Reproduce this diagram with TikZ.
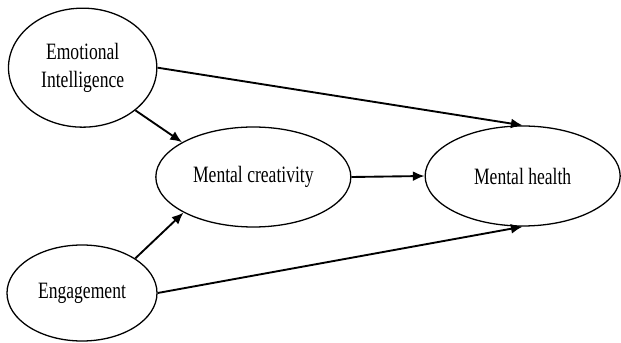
\documentclass[tikz,border=0pt]{standalone}
\usepackage{fontspec}
\setmainfont{Liberation Serif}[FakeStretch=0.75]
\usepackage{tikz}
\usetikzlibrary{arrows.meta,shapes,positioning,calc}

\begin{document}
\begin{tikzpicture}[
    var/.style={draw, ellipse, line width=1.1pt, inner sep=0pt, align=center,
        font=\fontsize{20pt}{24pt}\selectfont},
    path/.style={-{Latex[length=10pt,width=8.5pt]}, line width=1.6pt}
]
    \useasboundingbox (0,0) rectangle (18.63,-10.29);

    % Latent variables
    \node[var, minimum width=4.45cm, minimum height=3.57cm] (emotion) at (2.48,-2.03) {Emotional\\Intelligence};
    \node[var, minimum width=4.5cm, minimum height=2.88cm] (engage) at (2.46,-8.79) {Engagement};
    \node[var, minimum width=5.85cm, minimum height=3.0cm] (creative) at (7.6,-5.31) {Mental creativity};
    \node[var, minimum width=5.85cm, minimum height=3.0cm] (health) at (15.68,-5.28) {Mental health};

    % Paths
    \draw[path] (emotion.east) -- (health.north);
    \draw[path] (emotion.-39) -- (creative.154);
    \draw[path] (engage.33) -- (creative.207);
    \draw[path] (engage.east) -- (health.south);
    \draw[path] (creative.east) -- (health.west);

\end{tikzpicture}
\end{document}
